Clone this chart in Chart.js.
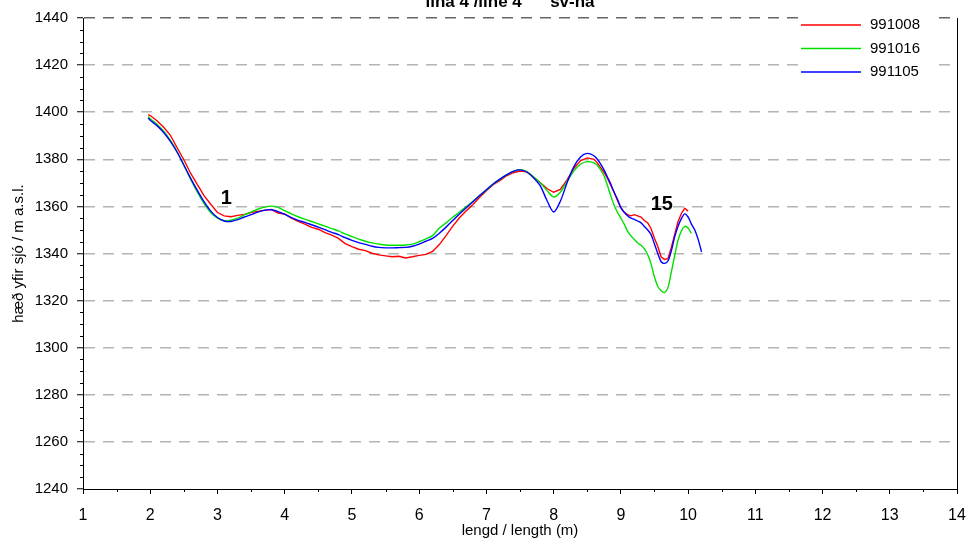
<!DOCTYPE html>
<html>
<head>
<meta charset="utf-8">
<script src="https://cdn.jsdelivr.net/npm/chart.js@4.4.1/dist/chart.umd.min.js"></script>
<style>
  html, body { margin: 0; padding: 0; background: #fff; }
  #profile { display: block; }
</style>
</head>
<body>
<canvas id="profile" width="969" height="546"></canvas>
<script>
const FONT = "'Liberation Sans', Arial, sans-serif";

// distance along the line (m)
const lengd = [
  1.97, 2.0, 2.1, 2.2, 2.3, 2.4, 2.5, 2.6, 2.7, 2.8, 2.9,
  3.0, 3.1, 3.2, 3.3, 3.4, 3.5, 3.6, 3.7, 3.8, 3.9,
  4.0, 4.1, 4.2, 4.3, 4.4, 4.5, 4.6, 4.7, 4.8, 4.9,
  5.0, 5.1, 5.2, 5.3, 5.4, 5.5, 5.6, 5.7, 5.8, 5.9,
  6.0, 6.1, 6.2, 6.3, 6.4, 6.5, 6.6, 6.7, 6.8, 6.9,
  7.0, 7.1, 7.2, 7.3, 7.4, 7.5, 7.6, 7.7, 7.8, 7.9,
  8.0, 8.1, 8.2, 8.3, 8.4, 8.5, 8.6, 8.65, 8.7, 8.75, 8.8, 8.85, 8.9, 8.95,
  9.0, 9.05, 9.1, 9.15, 9.2, 9.25, 9.3, 9.35, 9.4, 9.45, 9.5, 9.55, 9.6, 9.65,
  9.7, 9.75, 9.8, 9.85, 9.9, 9.95, 10.0, 10.05, 10.1, 10.15, 10.2
];

// surface height (m a.s.l.) per survey
const h991008 = [
  1399.0, 1398.6, 1396.4, 1393.6, 1390.2, 1384.9, 1379.8, 1374.1, 1369.4, 1364.6, 1360.9,
  1357.4, 1356.0, 1355.6, 1356.2, 1356.6, 1357.4, 1357.9, 1358.3, 1358.7, 1357.2,
  1356.8, 1355.0, 1353.6, 1352.5, 1351.1, 1350.3, 1348.9, 1347.8, 1346.4, 1344.2,
  1342.9, 1341.8, 1341.2, 1340.1, 1339.4, 1339.0, 1338.6, 1338.8, 1338.1, 1338.6,
  1339.2, 1339.6, 1340.9, 1343.8, 1347.6, 1351.6, 1355.2, 1358.1, 1360.8, 1363.9,
  1366.6, 1369.2, 1370.9, 1373.0, 1374.3, 1375.0, 1374.7, 1372.5, 1370.1, 1367.6,
  1366.0, 1367.2, 1371.3, 1376.1, 1379.4, 1380.6, 1380.0, 1378.5, 1376.5, 1374.5, 1372.0, 1369.0, 1366.0, 1362.5,
  1359.5, 1357.5, 1356.5, 1356.0, 1356.5, 1356.0, 1355.5, 1354.0, 1353.0, 1350.5, 1346.5, 1343.0, 1338.5, 1337.5,
  1337.8, 1342.5, 1348.0, 1353.5, 1357.0, 1359.2, 1358.0, null, null, null, null
];
const h991016 = [
  1398.2, 1397.2, 1394.9, 1391.9, 1388.0, 1383.3, 1377.5, 1371.6, 1366.2, 1361.3, 1357.4,
  1355.0, 1353.9, 1354.1, 1355.0, 1356.4, 1357.6, 1358.8, 1359.7, 1360.1, 1359.6,
  1358.2, 1356.8, 1355.6, 1354.6, 1353.6, 1352.6, 1351.6, 1350.6, 1349.6, 1348.3,
  1347.2, 1346.1, 1345.2, 1344.5, 1344.0, 1343.6, 1343.5, 1343.5, 1343.6, 1344.0,
  1345.0, 1346.2, 1347.6, 1350.8, 1353.0, 1355.4, 1357.6, 1359.9, 1362.2, 1364.6,
  1367.0, 1369.4, 1371.5, 1373.4, 1374.9, 1375.6, 1374.8, 1372.6, 1370.0, 1366.8,
  1364.0, 1366.0, 1370.6, 1375.0, 1377.9, 1379.0, 1378.5, 1377.5, 1375.5, 1373.0, 1369.0, 1364.5, 1360.5, 1357.5,
  1355.0, 1352.5, 1349.5, 1347.5, 1346.0, 1344.5, 1343.5, 1342.0, 1339.5, 1335.5, 1330.0, 1326.0, 1324.2, 1323.4,
  1325.5, 1332.0, 1339.0, 1345.5, 1349.5, 1351.5, 1350.8, 1348.5, null, null, null
];
const h991105 = [
  1397.5, 1396.6, 1394.3, 1391.4, 1387.6, 1383.0, 1377.6, 1372.0, 1366.8, 1362.0, 1358.0,
  1355.3, 1353.8, 1353.6, 1354.4, 1355.5, 1356.5, 1357.6, 1358.4, 1358.6, 1357.8,
  1356.6, 1355.2, 1354.1, 1353.2, 1352.2, 1351.2, 1350.1, 1349.0, 1348.0, 1346.7,
  1345.6, 1344.6, 1343.9, 1343.1, 1342.6, 1342.4, 1342.4, 1342.5, 1342.6, 1343.1,
  1344.0, 1345.2, 1346.4, 1348.6, 1351.2, 1354.0, 1356.8, 1359.4, 1362.0, 1364.6,
  1367.1, 1369.5, 1371.6, 1373.4, 1374.9, 1375.5, 1374.6, 1372.2, 1368.8, 1362.6,
  1357.6, 1362.2, 1370.0, 1376.8, 1381.0, 1382.5, 1381.5, 1380.0, 1378.0, 1375.5, 1372.5, 1369.5, 1366.0, 1363.0,
  1359.5, 1357.5, 1356.0, 1355.0, 1354.5, 1353.8, 1353.0, 1351.5, 1350.0, 1348.0, 1344.0, 1340.0, 1336.5, 1335.8,
  1336.8, 1341.0, 1347.0, 1351.5, 1354.8, 1356.8, 1355.5, 1352.5, 1350.0, 1346.0, 1340.7
];

const surveys = ["991008", "991016", "991105"];
const heights = [h991008, h991016, h991105];
const colours = ["#ff0000", "#00e000", "#0000ff"];

// station numbers written beside the profile
const stationLabels = ["1", "15"];
const stationX = [3.13, 9.61];
const stationY = [1363.5, 1361];

const titleText = "lína 4 /line 4      sv-na";

const points = (ys) =>
  lengd.map((x, i) => ({ x: x, y: ys[i] }));

// small ticks between the numbered ones + right frame + title
const frame = {
  id: "frame",
  afterDraw(chart) {
    const { ctx, chartArea: { left, top, right, bottom }, scales: { x, y } } = chart;
    ctx.save();
    ctx.strokeStyle = "#000";
    ctx.lineWidth = 1;
    ctx.beginPath();
    for (let v = 1.5; v < 14; v += 1) {
      const px = Math.round(x.getPixelForValue(v)) + 0.5;
      ctx.moveTo(px, bottom);
      ctx.lineTo(px, bottom + 3);
    }
    for (let v = 1245; v < 1440; v += 5) {
      if (v % 20 === 0) continue;
      const py = Math.round(y.getPixelForValue(v)) + 0.5;
      ctx.moveTo(left - 3, py);
      ctx.lineTo(left, py);
    }
    ctx.moveTo(right + 0.5, top);
    ctx.lineTo(right + 0.5, bottom);
    ctx.stroke();

    ctx.fillStyle = "#000";
    ctx.font = "bold 17px " + FONT;
    ctx.textAlign = "center";
    ctx.textBaseline = "alphabetic";
    ctx.fillText(titleText, 510, 7);
    ctx.restore();
  },
};

// legend box in the upper right corner and the station numbers
const notes = {
  id: "notes",
  afterDatasetsDraw(chart) {
    const { ctx, scales: { x, y } } = chart;
    ctx.save();
    ctx.fillStyle = "#fff";
    ctx.fillRect(798, 14, 135, 72);
    ctx.font = "15px " + FONT;
    ctx.textBaseline = "middle";
    ctx.textAlign = "left";
    chart.data.datasets.forEach((ds, i) => {
      const ly = 25 + i * 23.5;
      ctx.strokeStyle = ds.borderColor;
      ctx.lineWidth = 1.3;
      ctx.beginPath();
      ctx.moveTo(801, ly);
      ctx.lineTo(861, ly);
      ctx.stroke();
      ctx.fillStyle = "#000";
      ctx.fillText(ds.label, 870, ly);
    });

    ctx.font = "bold 20px " + FONT;
    ctx.textAlign = "center";
    stationLabels.forEach((t, i) => {
      ctx.fillText(t, x.getPixelForValue(stationX[i]), y.getPixelForValue(stationY[i]));
    });
    ctx.restore();
  },
};

const datasets = surveys.map((s, i) => ({
  label: s,
  data: points(heights[i]),
  borderColor: colours[i],
  backgroundColor: colours[i],
  borderWidth: 1.4,
  pointRadius: 0,
  tension: i === 0 ? 0 : 0.3,
  spanGaps: false,
  order: 2 - i,
}));

const config = {
  type: "line",
  data: { datasets: datasets },
  options: {
    responsive: false,
    animation: false,
    layout: { padding: { top: 12, right: 12, left: 0, bottom: 0 } },
    plugins: {
      legend: { display: false },
      title: { display: false },
      tooltip: { enabled: false },
    },
    scales: {
      x: {
        type: "linear",
        min: 1,
        max: 14,
        ticks: { stepSize: 1, color: "#000", font: { family: FONT, size: 16 }, padding: 12, maxRotation: 0 },
        grid: { drawOnChartArea: false, drawTicks: true, tickLength: 5, tickColor: "#000" },
        border: { color: "#000", width: 1 },
        title: {
          display: true,
          text: "lengd / length (m)",
          color: "#000",
          font: { family: FONT, size: 15 },
          padding: { top: 0, bottom: 6 },
        },
        afterFit(scale) {
          scale.height = 57;
          // end labels fit inside the page margins
          scale.paddingLeft = 0;
          scale.paddingRight = 0;
        },
      },
      y: {
        min: 1240,
        max: 1440,
        ticks: {
          stepSize: 20,
          color: "#000",
          font: { family: FONT, size: 15 },
          padding: 9,
          callback: (v) => String(v),
        },
        grid: {
          color: (c) => {
            if (!c.tick) return "#b4b4b4";
            if (c.tick.value === 1440) return "#666";
            if (c.tick.value === 1240) return "rgba(0,0,0,0)";
            return "#b4b4b4";
          },
          lineWidth: 1.5,
          drawTicks: true,
          tickLength: 6,
          tickColor: "#000",
          tickWidth: 1,
        },
        border: { color: "#000", width: 1, dash: [11, 8] },
        title: {
          display: true,
          text: "hæð yfir sjó / m a.s.l.",
          color: "#000",
          font: { family: FONT, size: 15 },
          padding: { top: 10, bottom: 0 },
        },
        afterFit(scale) { scale.width = 83; },
      },
    },
  },
  plugins: [frame, notes],
};

var ctx = document.getElementById("profile").getContext("2d");
var profileChart = new Chart(ctx, config);
</script>
</body>
</html>
